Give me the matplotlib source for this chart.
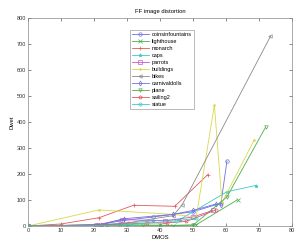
import matplotlib
matplotlib.use("Agg")
import matplotlib.pyplot as plt

names = ["coinsinfountains", "lighthouse", "monarch", "caps", "parrots",
         "buildings", "bikes", "carnivaldolls", "plane", "sailing2", "statue"]
colors = ["#6f6fe0", "#4cae4c", "#e05a5a", "#40c8c8", "#c85ac8",
          "#d8d84a", "#8a8a8a", "#6f6fe0", "#4cae4c", "#e05a5a", "#40c8c8"]
markers = ["o", "x", "+", "*", "s", ".", "<", "d", "v", "p", "h"]

x_coins = [0, 21, 28, 38, 50, 58.5, 60.3]
y_coins = [0, 3, 20, 35, 55, 88, 250]
x_light = [0, 22, 28, 40, 44, 51, 63.6]
y_light = [0, 3, 5, 3, 2, 5, 102]
x_mon = [0, 10, 21.5, 32, 44.5, 54.5]
y_mon = [0, 8, 32, 80, 76, 198]
x_caps = [0, 22, 24, 38, 46, 60.3, 69]
y_caps = [0, 5, 5, 20, 25, 132, 156]
x_par = [0, 21, 28.5, 41.5, 50, 56]
y_par = [0, 5, 25, 20, 35, 60]
x_bld = [0, 21.5, 44, 51, 56.5, 58.8, 68.5]
y_bld = [0, 62, 45, 35, 465, 90, 330]
x_bik = [0, 22, 30, 44, 46.7, 73.5]
y_bik = [0, 5, 12, 40, 81, 730]
x_car = [0, 22, 29, 44, 50, 57, 58.5]
y_car = [0, 5, 28, 45, 60, 85, 80]
x_pla = [0, 24, 35, 50, 60.3, 72]
y_pla = [0, 2, 3, 3, 112, 380]
x_sai = [0, 22, 36, 42, 48, 57]
y_sai = [0, 3, 12, 12, 18, 62]
x_sta = [0, 22, 30, 45, 51]
y_sta = [0, 1, 5, 20, 30]

xs = [x_coins, x_light, x_mon, x_caps, x_par, x_bld, x_bik, x_car, x_pla, x_sai, x_sta]
ys = [y_coins, y_light, y_mon, y_caps, y_par, y_bld, y_bik, y_car, y_pla, y_sai, y_sta]

xticks = [0, 10, 20, 30, 40, 50, 60, 70, 80]
yticks = [0, 100, 200, 300, 400, 500, 600, 700, 800]

plt.rcParams['font.family'] = ['Liberation Sans', 'DejaVu Sans']
fig = plt.figure(figsize=(2.97, 2.41), dpi=100)
ax = fig.add_axes([0.094, 0.062, 0.889, 0.863])

for n, c, m, x, y in zip(names, colors, markers, xs, ys):
    ax.plot(x, y, color=c, marker=m, lw=0.6, ms=2.5, mew=0.5,
            mfc='none' if m in "osdvph<" else c, label=n)

ax.set_xlim(0, 80)
ax.set_ylim(0, 800)
ax.set_xticks(xticks)
ax.set_yticks(yticks)
ax.tick_params(direction='in', length=2, width=0.4, labelsize=4, pad=1.5,
               top=True, right=True, colors='#333333')
for s in ax.spines.values():
    s.set_linewidth(0.5)
    s.set_color('#888888')
ax.set_title("FF image distortion", fontsize=4.2, pad=4)
ax.set_xlabel("DMOS", fontsize=4.2, labelpad=1)
ax.set_ylabel("Dwet", fontsize=4.2, labelpad=1)
leg = ax.legend(loc='upper left', bbox_to_anchor=(0.375, 0.955), fontsize=4,
                frameon=True, fancybox=False, edgecolor='#888888',
                handlelength=3, labelspacing=0.35, borderpad=0.4,
                handletextpad=0.5)
leg.get_frame().set_linewidth(0.5)
fig.savefig("out.png", dpi=100)
